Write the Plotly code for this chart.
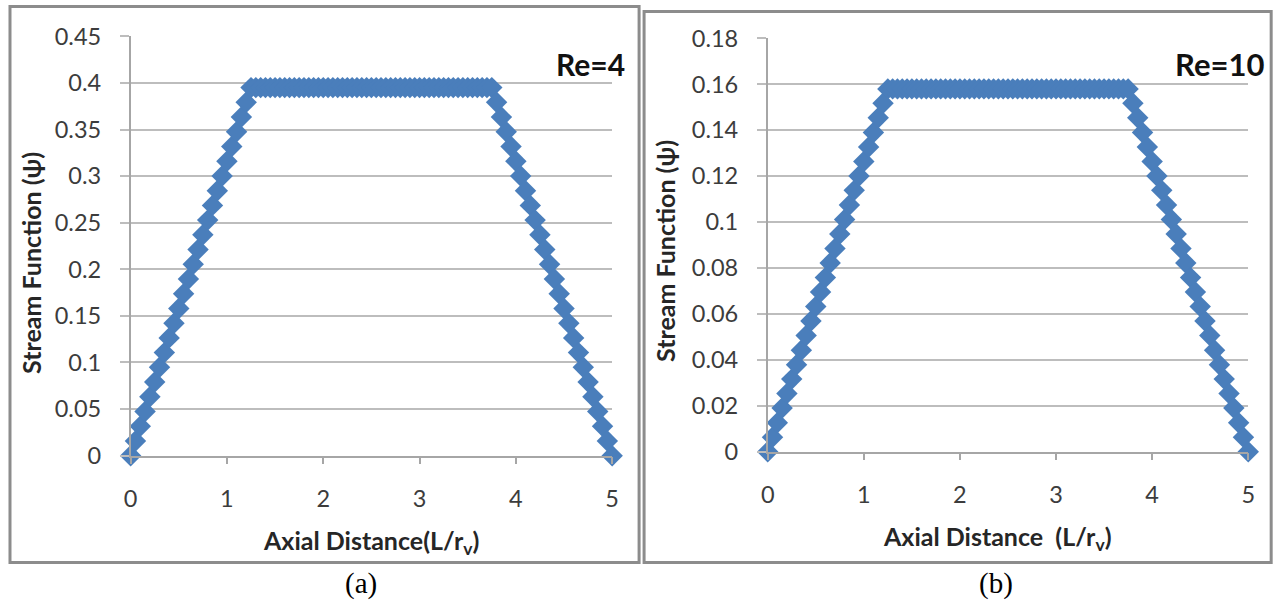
import plotly.graph_objects as go

# ---------------- data ----------------
axial_distance = [
    0.00, 0.05, 0.10, 0.15, 0.20, 0.25, 0.30, 0.35, 0.40, 0.45,
    0.50, 0.55, 0.60, 0.65, 0.70, 0.75, 0.80, 0.85, 0.90, 0.95,
    1.00, 1.05, 1.10, 1.15, 1.20, 1.25, 1.30, 1.35, 1.40, 1.45,
    1.50, 1.55, 1.60, 1.65, 1.70, 1.75, 1.80, 1.85, 1.90, 1.95,
    2.00, 2.05, 2.10, 2.15, 2.20, 2.25, 2.30, 2.35, 2.40, 2.45,
    2.50, 2.55, 2.60, 2.65, 2.70, 2.75, 2.80, 2.85, 2.90, 2.95,
    3.00, 3.05, 3.10, 3.15, 3.20, 3.25, 3.30, 3.35, 3.40, 3.45,
    3.50, 3.55, 3.60, 3.65, 3.70, 3.75, 3.80, 3.85, 3.90, 3.95,
    4.00, 4.05, 4.10, 4.15, 4.20, 4.25, 4.30, 4.35, 4.40, 4.45,
    4.50, 4.55, 4.60, 4.65, 4.70, 4.75, 4.80, 4.85, 4.90, 4.95,
    5.00,
]

psi_re4_rise = [0.0, 0.0158, 0.0316, 0.0474, 0.0632, 0.079, 0.0948, 0.1106,
                0.1264, 0.1422, 0.158, 0.1738, 0.1896, 0.2054, 0.2212, 0.237,
                0.2528, 0.2686, 0.2844, 0.3002, 0.316, 0.3318, 0.3476, 0.3634,
                0.3792, 0.395]
psi_re4_plateau = [0.395, 0.395, 0.395, 0.395, 0.395, 0.395, 0.395, 0.395,
                   0.395, 0.395, 0.395, 0.395, 0.395, 0.395, 0.395, 0.395,
                   0.395, 0.395, 0.395, 0.395, 0.395, 0.395, 0.395, 0.395,
                   0.395, 0.395, 0.395, 0.395, 0.395, 0.395, 0.395, 0.395,
                   0.395, 0.395, 0.395, 0.395, 0.395, 0.395, 0.395, 0.395,
                   0.395, 0.395, 0.395, 0.395, 0.395, 0.395, 0.395, 0.395,
                   0.395]
psi_re4_fall = [0.395, 0.3792, 0.3634, 0.3476, 0.3318, 0.316, 0.3002, 0.2844,
                0.2686, 0.2528, 0.237, 0.2212, 0.2054, 0.1896, 0.1738, 0.158,
                0.1422, 0.1264, 0.1106, 0.0948, 0.079, 0.0632, 0.0474, 0.0316,
                0.0158, 0.0]

psi_re10_rise = [0.0, 0.0063, 0.0126, 0.019, 0.0253, 0.0316, 0.0379, 0.0442,
                 0.0506, 0.0569, 0.0632, 0.0695, 0.0758, 0.0822, 0.0885, 0.0948,
                 0.1011, 0.1074, 0.1138, 0.1201, 0.1264, 0.1327, 0.139, 0.1454,
                 0.1517, 0.158]
psi_re10_plateau = [0.158, 0.158, 0.158, 0.158, 0.158, 0.158, 0.158, 0.158,
                    0.158, 0.158, 0.158, 0.158, 0.158, 0.158, 0.158, 0.158,
                    0.158, 0.158, 0.158, 0.158, 0.158, 0.158, 0.158, 0.158,
                    0.158, 0.158, 0.158, 0.158, 0.158, 0.158, 0.158, 0.158,
                    0.158, 0.158, 0.158, 0.158, 0.158, 0.158, 0.158, 0.158,
                    0.158, 0.158, 0.158, 0.158, 0.158, 0.158, 0.158, 0.158,
                    0.158]
psi_re10_fall = [0.158, 0.1517, 0.1454, 0.139, 0.1327, 0.1264, 0.1201, 0.1138,
                 0.1074, 0.1011, 0.0948, 0.0885, 0.0822, 0.0758, 0.0695, 0.0632,
                 0.0569, 0.0506, 0.0442, 0.0379, 0.0316, 0.0253, 0.019, 0.0126,
                 0.0063, 0.0]

psi_re4 = psi_re4_rise + psi_re4_plateau + psi_re4_fall
psi_re10 = psi_re10_rise + psi_re10_plateau + psi_re10_fall

x_ticks = [0, 1, 2, 3, 4, 5]
y_ticks_a = [0, 0.05, 0.1, 0.15, 0.2, 0.25, 0.3, 0.35, 0.4, 0.45]
y_ticks_b = [0, 0.02, 0.04, 0.06, 0.08, 0.1, 0.12, 0.14, 0.16, 0.18]

# ---------------- layout helpers ----------------
W, H = 1274, 601
# map target pixel positions (as seen in the photographed page) to paper coords
def px(x):
    return ((x - 3.0) / 0.992) / W
def py(y):
    return 1 - ((y - 13.6) / 0.955) / H

MARKER = "#4a7ebb"
GRID = "#bdbdbd"
AXIS = "#a6a6a6"
SANS = "Lato, 'Open Sans', sans-serif"
TICKFONT = dict(family=SANS, size=23.5, color="#3c3c3c")
TITLEFONT = dict(family=SANS, size=25, color="#262626")

fig = go.Figure()
fig.add_trace(go.Scatter(x=axial_distance, y=psi_re4, mode="markers",
                         marker=dict(symbol="diamond", size=16.5, color=MARKER,
                                     line=dict(width=0)),
                         cliponaxis=False, xaxis="x", yaxis="y", showlegend=False))
fig.add_trace(go.Scatter(x=axial_distance, y=psi_re10, mode="markers",
                         marker=dict(symbol="diamond", size=16.5, color=MARKER,
                                     line=dict(width=0)),
                         cliponaxis=False, xaxis="x2", yaxis="y2", showlegend=False))

def xaxis_cfg(domain, anchor):
    return dict(domain=domain, anchor=anchor, range=[0, 5], tickvals=x_ticks,
                showgrid=False, zeroline=False, showline=True, linecolor=AXIS,
                linewidth=1.5, ticks="outside", ticklen=7, tickcolor=AXIS,
                tickwidth=1.5, tickfont=TICKFONT, ticklabelstandoff=14,
                fixedrange=True)

def yaxis_cfg(domain, anchor, rng, vals):
    return dict(domain=domain, anchor=anchor, range=rng, tickvals=vals,
                showgrid=True, gridcolor=GRID, gridwidth=1.5, zeroline=False,
                showline=True, linecolor=AXIS, linewidth=1.5, ticks="outside",
                ticklen=9, tickcolor=GRID, tickwidth=1.5, tickfont=TICKFONT,
                ticklabelstandoff=14, fixedrange=True)

fig.update_layout(
    width=W, height=H,
    margin=dict(l=0, r=0, t=0, b=0),
    paper_bgcolor="white", plot_bgcolor="white",
    xaxis=xaxis_cfg([px(127), px(610)], "y"),
    yaxis=yaxis_cfg([py(455), py(35)], "x", [0, 0.45], y_ticks_a),
    xaxis2=xaxis_cfg([px(766), px(1248)], "y2"),
    yaxis2=yaxis_cfg([py(451), py(37)], "x2", [0, 0.18], y_ticks_b),
)

# panel borders
border = dict(color="#8c8c8c", width=3)
fig.add_shape(type="rect", xref="paper", yref="paper",
              x0=px(6), x1=px(637), y0=py(562), y1=py(5), line=border, layer="below")
fig.add_shape(type="rect", xref="paper", yref="paper",
              x0=px(642), x1=px(1271), y0=py(562), y1=py(10), line=border, layer="below")

annotations = [
    dict(text="<b>Stream Function (ψ)</b>", x=px(27), y=py(262), textangle=-90,
         font=TITLEFONT),
    dict(text="<b>Stream Function (ψ)</b>", x=px(663), y=py(250), textangle=-90,
         font=TITLEFONT),
    dict(text="<b>Axial Distance(L/r<sub>v</sub>)</b>", x=px(368), y=py(541),
         font=TITLEFONT),
    dict(text="<b>Axial Distance  (L/r<sub>v</sub>)</b>", x=px(996), y=py(537),
         font=TITLEFONT),
    dict(text="<b>Re=4</b>", x=px(588), y=py(63),
         font=dict(family=SANS, size=30, color="#111111")),
    dict(text="<b>Re=10</b>", x=px(1219), y=py(63),
         font=dict(family=SANS, size=31, color="#111111")),
    dict(text="(a)", x=px(358), y=py(583),
         font=dict(family="'Liberation Serif', 'Times New Roman', serif", size=29,
                   color="#000000")),
    dict(text="(b)", x=px(995), y=py(583),
         font=dict(family="'Liberation Serif', 'Times New Roman', serif", size=29,
                   color="#000000")),
]
for a in annotations:
    a.update(xref="paper", yref="paper", showarrow=False, xanchor="center",
             yanchor="middle")
fig.update_layout(annotations=annotations)

fig.write_html("out.html",
               config={"displayModeBar": False},
               post_script="document.body.style.margin='0';"
                           "document.body.style.overflow='hidden';")
